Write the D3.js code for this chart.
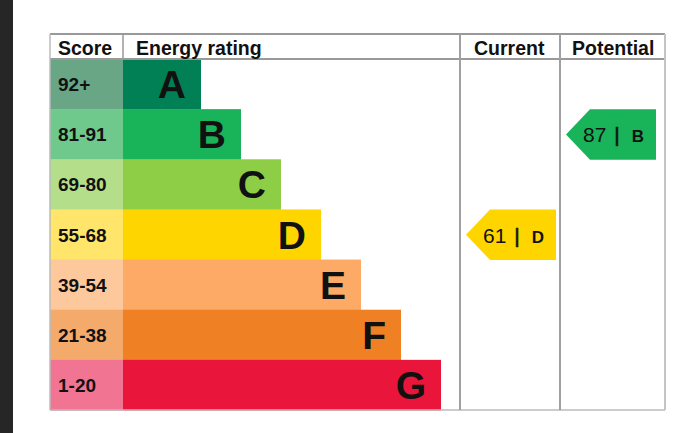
<!DOCTYPE html>
<html><head><meta charset="utf-8">
<script src="https://cdn.jsdelivr.net/npm/d3@7"></script>
<style>
html,body{margin:0;padding:0;background:#fff;}
svg{display:block;font-family:"Liberation Sans",Arial,sans-serif;}
</style></head>
<body>
<script>
const ratings = ["A","B","C","D","E","F","G"];
const scoreRanges = ["92+","81-91","69-80","55-68","39-54","21-38","1-20"];
const barColors = ["#008054","#19b459","#8dce46","#ffd500","#fcaa65","#ef8023","#e9153b"];
const scoreColors = ["#69a686","#6fc98c","#b5de8a","#ffe569","#fdc89b","#f4aa6b","#f27493"];
const headers = ["Score","Energy rating","Current","Potential"];
const currentValue = 61, currentRating = "D";
const potentialValue = 87, potentialRating = "B";

const W = 697, H = 433;
const svg = d3.select("body").append("svg").attr("width", W).attr("height", H);

svg.append("rect").attr("x",0).attr("y",0).attr("width",13).attr("height",H).attr("fill","#262626");

const tLeft = 50, tRight = 665, tTop = 34, headBottom = 59, tBottom = 410;
const colScore = 123, colCur = 460, colPot = 560;

const y = d3.scaleBand().domain(ratings).range([headBottom, tBottom]).padding(0);
const xBar = d3.scaleLinear().domain([0, ratings.length - 1]).range([201, 441]);

// score cells
svg.selectAll("rect.score").data(ratings).join("rect")
  .attr("x", tLeft).attr("y", d => y(d)).attr("width", colScore - tLeft).attr("height", y.bandwidth() + 0.5)
  .attr("fill", (d,i) => scoreColors[i]);
svg.selectAll("text.score").data(scoreRanges).join("text")
  .attr("x", tLeft + 8).attr("y", (d,i) => y(ratings[i]) + y.bandwidth()/2 + 7)
  .attr("font-size", 19).attr("font-weight", "bold").attr("fill", "#111").text(d => d);

// bars
svg.selectAll("rect.bar").data(ratings).join("rect")
  .attr("x", colScore).attr("y", d => y(d)).attr("width", (d,i) => xBar(i) - colScore).attr("height", y.bandwidth() + 0.5)
  .attr("fill", (d,i) => barColors[i]);
svg.selectAll("text.bar").data(ratings).join("text")
  .attr("x", (d,i) => xBar(i) - 15).attr("y", d => y(d) + y.bandwidth()/2 + 14)
  .attr("text-anchor", "end").attr("font-size", 39).attr("font-weight", "bold").attr("fill", "#111").text(d => d);

// grid lines
const g = svg.append("g").attr("fill","none");
g.append("line").attr("x1",tLeft).attr("x2",tRight).attr("y1",tTop).attr("y2",tTop).attr("stroke","#999").attr("stroke-width",2);
g.append("line").attr("x1",tLeft).attr("x2",tRight).attr("y1",headBottom).attr("y2",headBottom).attr("stroke","#999").attr("stroke-width",2);
g.append("line").attr("x1",tLeft).attr("x2",tRight).attr("y1",tBottom).attr("y2",tBottom).attr("stroke","#bbb").attr("stroke-width",1.5);
g.append("line").attr("x1",tLeft).attr("x2",tLeft).attr("y1",tTop).attr("y2",tBottom).attr("stroke","#bbb").attr("stroke-width",1.5);
g.append("line").attr("x1",colScore).attr("x2",colScore).attr("y1",tTop).attr("y2",headBottom).attr("stroke","#999").attr("stroke-width",1.5);
g.append("line").attr("x1",colCur).attr("x2",colCur).attr("y1",tTop).attr("y2",tBottom).attr("stroke","#a0a0a0").attr("stroke-width",2);
g.append("line").attr("x1",colPot).attr("x2",colPot).attr("y1",tTop).attr("y2",tBottom).attr("stroke","#a0a0a0").attr("stroke-width",2);
g.append("line").attr("x1",tRight).attr("x2",tRight).attr("y1",tTop).attr("y2",tBottom).attr("stroke","#c4c4c4").attr("stroke-width",2);

// headers
const headX = [tLeft + 8, colScore + 13, colCur + 14, colPot + 12];
svg.selectAll("text.head").data(headers).join("text")
  .attr("x", (d,i) => headX[i]).attr("y", 55)
  .attr("font-size", 19.5).attr("font-weight", "bold").attr("fill", "#111").text(d => d);

// arrows
function arrow(colX, rating, value) {
  const idx = ratings.indexOf(rating);
  const y0 = y(rating), y1 = y0 + y.bandwidth() + 0.5, ym = (y0 + y1)/2;
  const xt = colX + 6, xf = xt + 24, xr = colX + 96;
  svg.append("path")
    .attr("d", d3.line()([[xt,ym],[xf,y0],[xr,y0],[xr,y1],[xf,y1]]) + "Z")
    .attr("fill", barColors[idx]);
  const t = svg.append("text").attr("x", xt + 17).attr("y", ym + 8).attr("fill", "#111");
  t.append("tspan").attr("font-size", 21).text(value);
  t.append("tspan").attr("font-size", 21).attr("dx", 8).attr("stroke", "#111").attr("stroke-width", 0.6).text("|");
  t.append("tspan").attr("font-size", 17).attr("font-weight","bold").attr("dx", 12).text(rating);
}
arrow(colCur, currentRating, currentValue);
arrow(colPot, potentialRating, potentialValue);
</script>
</body></html>
